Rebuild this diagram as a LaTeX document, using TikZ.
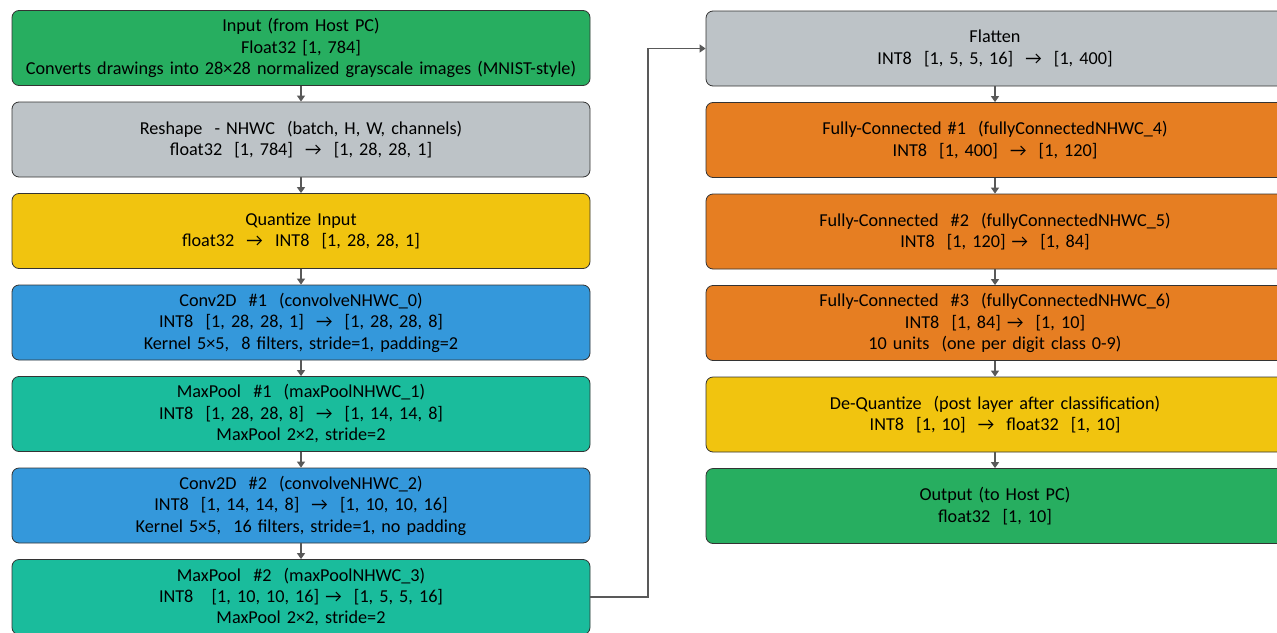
\documentclass[tikz,border=0pt]{standalone}
\usepackage{fontspec}
\setmainfont{Carlito}
\usetikzlibrary{positioning,arrows.meta}

\definecolor{ioGreen}{HTML}{27AE60}
\definecolor{shapeGray}{HTML}{BDC3C7}
\definecolor{quantYellow}{HTML}{F1C40F}
\definecolor{convBlue}{HTML}{3498DB}
\definecolor{poolTeal}{HTML}{1ABC9C}
\definecolor{fcOrange}{HTML}{E67E22}

\tikzset{
  layer/.style={draw=black!80, line width=0.8pt, rounded corners=7pt,
    minimum width=578pt, minimum height=75pt, text width=570pt,
    align=center, font=\fontsize{18.2}{21.5}\selectfont, inner sep=0pt},
  flow/.style={-{Triangle[length=6pt,width=8pt]}, line width=1.3pt, draw=black!65}
}

\begin{document}
\begin{tikzpicture}[x=1pt, y=-1pt, node distance=15.7pt]
		\useasboundingbox (0,0) rectangle (1277,632);
		\clip (0,0) rectangle (1277,632);

		% left column
		\node[layer, fill=ioGreen] (input) at (301,48)
		  {Input (from Host PC)\\Float32 [1, 784]\\Converts drawings into 28×28 normalized grayscale images (MNIST-style)};
		\node[layer, fill=shapeGray, below=of input] (reshape)
		  {Reshape~ - NHWC~ (batch, H, W, channels)\\float32~ [1, 784]~ →~ [1, 28, 28, 1]};
		\node[layer, fill=quantYellow, below=of reshape] (quant)
		  {Quantize Input\\float32~ →~ INT8~ [1, 28, 28, 1]};
		\node[layer, fill=convBlue, below=of quant] (conv1)
		  {Conv2D~ \#1~ (convolveNHWC\_0)\\INT8~ [1, 28, 28, 1]~ →~ [1, 28, 28, 8]\\Kernel 5×5,~ 8 filters, stride=1, padding=2};
		\node[layer, fill=poolTeal, below=of conv1] (pool1)
		  {MaxPool~ \#1~ (maxPoolNHWC\_1)\\INT8~ [1, 28, 28, 8]~ →~ [1, 14, 14, 8]\\MaxPool 2×2, stride=2};
		\node[layer, fill=convBlue, below=of pool1] (conv2)
		  {Conv2D~ \#2~ (convolveNHWC\_2)\\INT8~ [1, 14, 14, 8]~ →~ [1, 10, 10, 16]\\Kernel 5×5,~ 16 filters, stride=1, no padding};
		\node[layer, fill=poolTeal, below=of conv2] (pool2)
		  {MaxPool~ \#2~ (maxPoolNHWC\_3)\\INT8~~ [1, 10, 10, 16] →~ [1, 5, 5, 16]\\MaxPool 2×2, stride=2};

		% right column
		\node[layer, fill=shapeGray] (flat) at (995,48.5)
		  {Flatten\\INT8~ [1, 5, 5, 16]~ →~ [1, 400]};
		\node[layer, fill=fcOrange, below=of flat] (fc1)
		  {Fully-Connected \#1~ (fullyConnectedNHWC\_4)\\INT8~ [1, 400]~ →~ [1, 120]};
		\node[layer, fill=fcOrange, below=of fc1] (fc2)
		  {Fully-Connected~ \#2~ (fullyConnectedNHWC\_5)\\INT8~ [1, 120] →~ [1, 84]};
		\node[layer, fill=fcOrange, below=of fc2] (fc3)
		  {Fully-Connected~ \#3~ (fullyConnectedNHWC\_6)\\INT8~ [1, 84] →~ [1, 10]\\10 units~ (one per digit class 0-9)};
		\node[layer, fill=quantYellow, below=of fc3] (dequant)
		  {De-Quantize~ (post layer after classification)\\INT8~ [1, 10]~ →~ float32~ [1, 10]};
		\node[layer, fill=ioGreen, below=of dequant] (output)
		  {Output (to Host PC)\\float32~ [1, 10]};

		% connectors
		\draw[flow] (input) -- (reshape);
		\draw[flow] (reshape) -- (quant);
		\draw[flow] (quant) -- (conv1);
		\draw[flow] (conv1) -- (pool1);
		\draw[flow] (pool1) -- (conv2);
		\draw[flow] (conv2) -- (pool2);
		\coordinate (bendlow) at (648,597);
		\coordinate (bendhigh) at (648,48.5);
		\draw[flow] (pool2.east |- bendlow) -- (bendlow) -- (bendhigh) -- (flat.west);
		\draw[flow] (flat) -- (fc1);
		\draw[flow] (fc1) -- (fc2);
		\draw[flow] (fc2) -- (fc3);
		\draw[flow] (fc3) -- (dequant);
		\draw[flow] (dequant) -- (output);
\end{tikzpicture}
\end{document}
